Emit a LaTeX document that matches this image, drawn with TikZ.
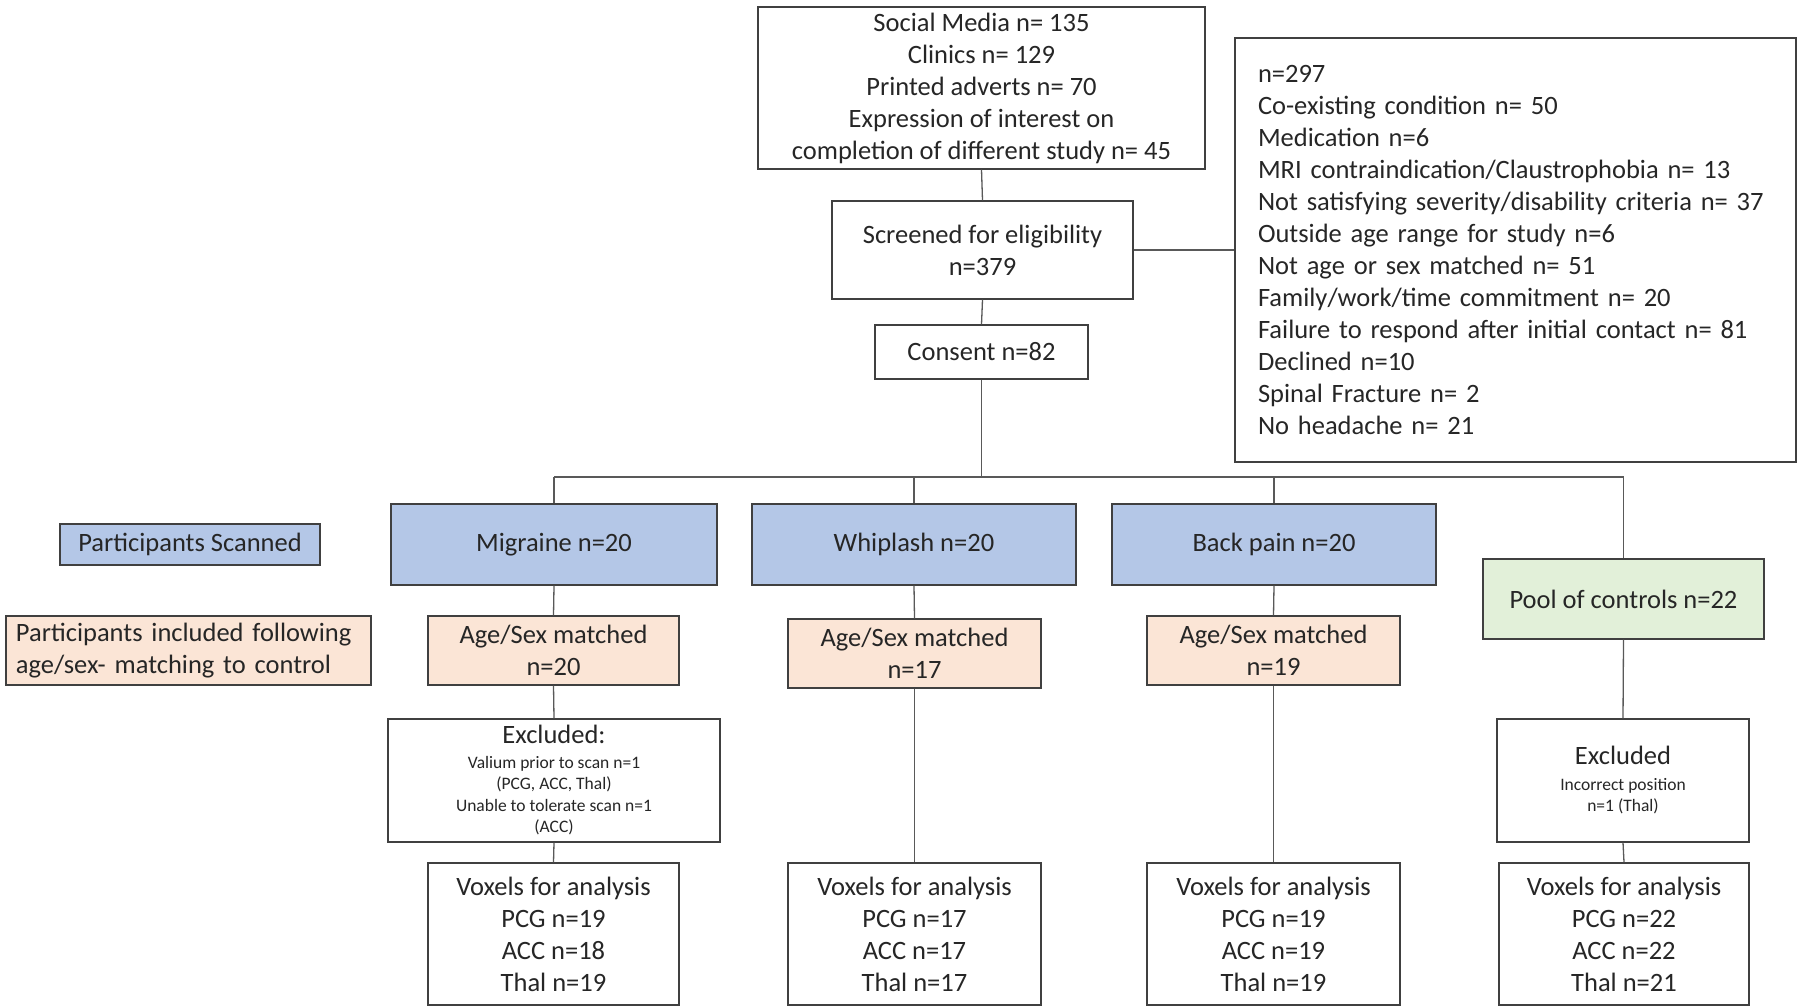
\documentclass[tikz,border=0pt]{standalone}
\usepackage{fontspec}
\setmainfont{Carlito}
\definecolor{bluef}{HTML}{B4C7E7}
\definecolor{peachf}{HTML}{FBE5D6}
\definecolor{greenf}{HTML}{E2F0D9}
\definecolor{edge}{HTML}{404040}
\definecolor{lineg}{HTML}{595959}
\definecolor{txt}{HTML}{262626}
\newcommand{\smallfs}{\fontsize{17.5}{21.5}\selectfont}
\newcommand{\bigfs}{\fontsize{26.5}{32}\selectfont}
\begin{document}
\begin{tikzpicture}[x=1pt,y=-1pt,
  every node/.style={font=\bigfs, text=txt},
  box/.style={draw=edge, line width=1.3pt, fill=white, inner sep=0pt, align=center},
  bluebox/.style={box, fill=bluef},
  peachbox/.style={box, fill=peachf},
  greenbox/.style={box, fill=greenf},
  conn/.style={draw=lineg, line width=1.3pt}
]
\useasboundingbox (0,0) rectangle (1801,1008);
\fill[white] (0,0) rectangle (1801,1008);

\coordinate (br) at (981.5,477);
\coordinate (brL) at (554,477);
\coordinate (brR) at (1623.5,477);

\node[box, minimum width=447pt, minimum height=162pt] (top) at (981.5,88)
  {Social Media n= 135\\Clinics n= 129\\Printed adverts n= 70\\Expression of interest on\\completion of different study n= 45};
\node[box, minimum width=301pt, minimum height=98pt] (screen) at (982.5,250)
  {Screened for eligibility\\n=379};
\node[box, minimum width=213pt, minimum height=54pt] (consent) at (981.5,352)
  {Consent n=82};
\node[box, minimum width=561pt, minimum height=424pt, text width=515pt, align=left] (excl) at (1515.5,250)
  {n=297\\Co-existing condition n= 50\\Medication n=6\\MRI contraindication/Claustrophobia n= 13\\Not satisfying severity/disability criteria n= 37\\Outside age range for study n=6\\Not age or sex matched n= 51\\Family/work/time commitment n= 20\\Failure to respond after initial contact n= 81\\Declined n=10\\Spinal Fracture n= 2\\No headache n= 21};

\node[bluebox, minimum width=260pt, minimum height=41pt] (scanned) at (190,544.5) {Participants Scanned};
\node[bluebox, minimum width=326pt, minimum height=81pt] (mig) at (554,544.5) {Migraine n=20};
\node[bluebox, minimum width=324pt, minimum height=81pt] (whip) at (914,544.5) {Whiplash n=20};
\node[bluebox, minimum width=324pt, minimum height=81pt] (back) at (1274,544.5) {Back pain n=20};
\node[greenbox, minimum width=281pt, minimum height=80pt] (pool) at (1623.5,599) {Pool of controls n=22};

\node[peachbox, minimum width=365pt, minimum height=69pt, text width=345pt, align=left] (incl) at (188.5,650.5) {Participants included following\\age/sex- matching to control};
\node[peachbox, minimum width=251pt, minimum height=69pt] (am1) at (553.5,650.5) {Age/Sex matched\\n=20};
\node[peachbox, minimum width=253pt, minimum height=69pt] (am2) at (914.5,653.5) {Age/Sex matched\\n=17};
\node[peachbox, minimum width=253pt, minimum height=69pt] (am3) at (1273.5,650.5) {Age/Sex matched\\n=19};

\node[box, minimum width=332pt, minimum height=123pt, font=\smallfs] (ex1) at (554,780.5)
  {{\bigfs Excluded:}\\[3pt]Valium prior to scan n=1\\(PCG, ACC, Thal)\\Unable to tolerate scan n=1\\(ACC)};
\node[box, minimum width=252pt, minimum height=123pt, font=\smallfs] (ex4) at (1623,780.5)
  {{\bigfs Excluded}\\[4pt]Incorrect position\\n=1 (Thal)};

\node[box, minimum width=251pt, minimum height=142pt] (v1) at (553.5,934) {Voxels for analysis\\PCG n=19\\ACC n=18\\Thal n=19};
\node[box, minimum width=253pt, minimum height=142pt] (v2) at (914.5,934) {Voxels for analysis\\PCG n=17\\ACC n=17\\Thal n=17};
\node[box, minimum width=253pt, minimum height=142pt] (v3) at (1273.5,934) {Voxels for analysis\\PCG n=19\\ACC n=19\\Thal n=19};
\node[box, minimum width=250pt, minimum height=142pt] (v4) at (1624,934) {Voxels for analysis\\PCG n=22\\ACC n=22\\Thal n=21};

\draw[conn] (top.south) -- (screen.north);
\draw[conn] (screen.south) -- (consent.north);
\draw[conn] (screen.east) -- (excl.west |- screen.east);
\draw[conn] (consent.south) -- (br);
\draw[conn] (brL) -- (brR);
\draw[conn] (mig.north |- br) -- (mig.north);
\draw[conn] (whip.north |- br) -- (whip.north);
\draw[conn] (back.north |- br) -- (back.north);
\draw[conn] (pool.north |- br) -- (pool.north);
\draw[conn] (mig.south) -- (am1.north);
\draw[conn] (am1.south) -- (ex1.north);
\draw[conn] (ex1.south) -- (v1.north);
\draw[conn] (whip.south) -- (am2.north);
\draw[conn] (am2.south) -- (v2.north);
\draw[conn] (back.south) -- (am3.north);
\draw[conn] (am3.south) -- (v3.north);
\draw[conn] (pool.south) -- (ex4.north);
\draw[conn] (ex4.south) -- (v4.north);
\end{tikzpicture}
\end{document}
